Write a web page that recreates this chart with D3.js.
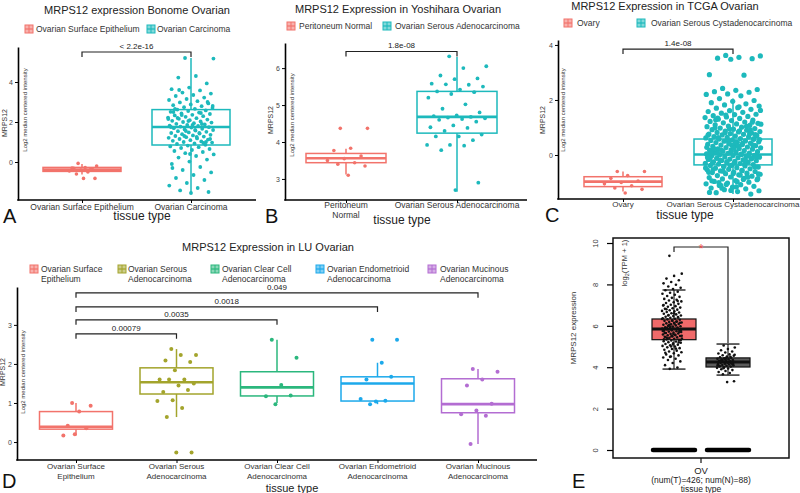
<!DOCTYPE html>
<html lang="en">
<head>
<meta charset="utf-8">
<title>MRPS12 expression in ovarian datasets</title>
<script src="https://cdnjs.cloudflare.com/ajax/libs/d3/7.8.5/d3.min.js"></script>
<style>
  body { margin: 0; background: #fff; }
  svg { font-family: "Liberation Sans", Arial, sans-serif; }
</style>
</head>
<body>
<script>
// ---------- data ----------
// box stats are [whiskerLow, q1, median, q3, whiskerHigh]

// A - Bonome
var aGroups = ["Ovarian Surface Epithelium", "Ovarian Carcinoma"];
var aBox = [[-0.62, -0.47, -0.38, -0.27, -0.1], [-1.55, 0.85, 1.75, 2.62, 5.2]];
var aTicks = [0, 2, 4];
var aPval = "< 2.2e-16";
var aPts = [
  [-0.07, -0.2, -0.28, -0.32, -0.36, -0.4, -0.45, -0.5, -0.6, -0.82, -0.82, -0.3, -0.38],
  [5.2, 5.17, 4.3, 4.22, 3.93, 3.72, 3.64, 3.58, 3.47, 3.42, 3.35, 3.3, 3.22, 3.15, 3.1, 3.04, 2.98, 2.93,
   2.88, 2.84, 2.79, 2.74, 2.7, 2.66, 2.62, 2.58, 2.55, 2.51, 2.47, 2.43, 2.4, 2.36, 2.33, 2.29, 2.26, 2.22,
   2.19, 2.16, 2.12, 2.09, 2.06, 2.03, 2.0, 1.97, 1.94, 1.91, 1.88, 1.85, 1.82, 1.8, 1.77, 1.74, 1.72, 1.69,
   1.66, 1.63, 1.6, 1.57, 1.54, 1.51, 1.48, 1.45, 1.42, 1.39, 1.36, 1.33, 1.3, 1.27, 1.24, 1.21, 1.18, 1.15,
   1.12, 1.09, 1.06, 1.03, 1.0, 0.97, 0.93, 0.9, 0.86, 0.82, 0.78, 0.74, 0.7, 0.65, 0.6, 0.55, 0.5, 0.44,
   0.38, 0.3, 0.22, 0.12, 0.02, -0.1, -0.25, -0.4, -0.52, -0.65, -0.8, -0.9, -1.05, -1.18, -1.3, -1.42, -1.5,
   -1.55, 2.5, 1.9, 1.3, 2.8, 1.6, 2.2, 1.0, 2.05, 1.75, 1.45, 2.35, 1.15, 1.85, 2.65, 0.95, 1.55, 2.15,
   1.25, 3.6, 3.0, 0.4, -0.3, 2.45]
];

// B - Yoshihara
var bGroups = ["Peritoneum Normal", "Ovarian Serous Adenocarcinoma"];
var bBox = [[3.12, 3.44, 3.56, 3.69, 3.82], [2.65, 4.24, 4.68, 5.37, 6.3]];
var bTicks = [3, 4, 5, 6];
var bPval = "1.8e-08";
var bPts = [
  [4.37, 4.37, 3.83, 3.77, 3.62, 3.55, 3.5, 3.44, 3.4, 3.35, 3.1],
  [6.32, 6.05, 6.0, 5.8, 5.72, 5.7, 5.58, 5.55, 5.56, 5.5, 5.42, 5.37, 5.35, 5.3, 5.2, 5.02, 4.9, 4.8,
   4.72, 4.7, 4.68, 4.66, 4.64, 4.62, 4.6, 4.55, 4.45, 4.4, 4.38, 4.3, 4.2, 4.15, 4.15, 4.05, 3.92, 3.92,
   3.9, 3.78, 2.9, 2.7]
];

// C - TCGA
var cGroups = ["Ovary", "Ovarian Serous Cystadenocarcinoma"];
var cBox = [[-1.33, -1.15, -0.97, -0.79, -0.6], [-1.42, -0.36, 0.02, 0.58, 2.05]];
var cTicks = [0, 2, 4];
var cPval = "1.4e-08";
var cPts = [
  [-0.6, -0.6, -0.75, -0.85, -0.95, -1.0, -1.05, -1.12, -1.2, -1.25, -1.38],
  [3.62, 3.6, 3.55, 3.52, 3.5, 3.48, 2.92, 2.9, 2.42, 2.38, 2.35, 2.3, 2.28, 2.22, 2.2, 2.15, 2.05, 1.98,
   1.95, 1.9, 1.86, 1.82, 1.78, 1.72, 1.7, 1.66, 1.61, 1.58, 1.55, 1.52, 1.48, 1.47, 1.43, 1.4, 1.38, 1.36,
   1.33, 1.3, 1.27, 1.25, 1.22, 1.2, 1.17, 1.15, 1.13, 1.1, 1.08, 1.05, 1.03, 1.01, 0.98, 0.96, 0.94, 0.92,
   0.9, 0.87, 0.85, 0.84, 0.82, 0.8, 0.78, 0.76, 0.75, 0.73, 0.71, 0.69, 0.67, 0.66, 0.64, 0.62, 0.6, 0.58,
   0.57, 0.55, 0.53, 0.51, 0.5, 0.48, 0.46, 0.45, 0.43, 0.41, 0.39, 0.38, 0.36, 0.34, 0.33, 0.31, 0.29,
   0.27, 0.26, 0.24, 0.22, 0.21, 0.19, 0.17, 0.16, 0.14, 0.12, 0.11, 0.09, 0.07, 0.06, 0.04, 0.03, 0.01,
   -0.01, -0.02, -0.04, -0.05, -0.07, -0.08, -0.1, -0.12, -0.13, -0.15, -0.16, -0.18, -0.2, -0.21, -0.23,
   -0.25, -0.26, -0.28, -0.3, -0.31, -0.33, -0.35, -0.37, -0.38, -0.4, -0.42, -0.44, -0.46, -0.48, -0.5,
   -0.52, -0.54, -0.56, -0.58, -0.6, -0.62, -0.64, -0.66, -0.68, -0.7, -0.72, -0.75, -0.77, -0.8, -0.82,
   -0.85, -0.87, -0.9, -0.93, -0.96, -0.99, -1.02, -1.05, -1.08, -1.11, -1.14, -1.17, -1.2, -1.23, -1.26,
   -1.3, -1.33, -1.37, -1.42,
   0.95, 0.72, 0.43, 0.18, -0.06, -0.29, -0.53, -0.81, -1.07, 1.12, 0.88, 0.63, 0.37, 0.13, -0.11, -0.34,
   -0.59, -0.86, -1.16, 0.99, 0.77, 0.52, 0.28, 0.02, -0.19, -0.43, -0.67, -0.94, 1.04, 0.81, 0.56, 0.32,
   0.08, -0.14, -0.39, -0.63, -0.89, -1.21, 0.69, 0.47, 0.23, -0.03, -0.24, -0.47, -0.73, -1.0, 0.59,
   0.35, 0.1, -0.17, -0.41, -0.69, -0.97, 1.28, 0.91, 0.41, -0.09, -0.57, -1.1, 0.74, 0.25, -0.27, -0.78,
   1.45, 1.62, 1.75, 1.34, 1.19, -1.29, -1.36]
];

// D - LU
var dGroups = ["Ovarian Surface\nEpithelium", "Ovarian Serous\nAdenocarcinoma", "Ovarian Clear Cell\nAdenocarcinoma",
               "Ovarian Endometrioid\nAdenocarcinoma", "Ovarian Mucinous\nAdenocarcinoma"];
var dBox = [[0.17, 0.33, 0.39, 0.78, 1.0], [0.64, 1.23, 1.53, 1.9, 2.38], [1.0, 1.18, 1.4, 1.8, 2.62],
            [0.97, 1.05, 1.5, 1.67, 2.03], [-0.05, 0.75, 0.97, 1.62, 1.87]];
var dTicks = [0, 1, 2, 3];
var dPts = [
  [1.0, 0.93, 0.78, 0.42, 0.35, 0.2, 0.17],
  [2.38, 2.23, 2.23, 2.09, 2.05, 1.84, 1.6, 1.6, 1.6, 1.5, 1.45, 1.28, 1.33, 1.07, 1.05, 0.87, 0.64, -0.27, -0.27],
  [2.62, 2.16, 1.46, 1.17, 1.19, 0.97],
  [2.62, 2.62, 2.03, 1.6, 1.67, 1.04, 1.1, 1.06, 0.97],
  [1.87, 1.8, 1.6, 1.45, 0.98, 0.81, 0.71, 0.67, -0.05]
];
var dComparisons = [[0, 4, "0.049"], [0, 3, "0.0018"], [0, 2, "0.0035"], [0, 1, "0.00079"]];

// E - GEPIA
var eGroups = ["Tumor", "Normal"];
var eBox = [[3.91, 5.33, 5.85, 6.33, 7.73], [3.62, 4.01, 4.25, 4.45, 5.12]];
var eTicks = [0, 2, 4, 6, 8, 10];
var ePts = [
  [9.38, 8.52, 8.41, 8.28, 8.2, 8.12, 8.05, 7.98, 7.9, 7.84, 7.78, 7.72, 7.65, 7.6, 7.55, 7.5, 7.44, 7.4,
   7.35, 7.3, 7.26, 7.22, 7.18, 7.14, 7.1, 7.06, 7.02, 6.98, 6.95, 6.92, 6.88, 6.85, 6.82, 6.78, 6.75, 6.72,
   6.7, 6.67, 6.64, 6.61, 6.58, 6.55, 6.52, 6.5, 6.47, 6.44, 6.42, 6.39, 6.36, 6.34, 6.31, 6.29, 6.26, 6.24,
   6.21, 6.19, 6.16, 6.14, 6.12, 6.09, 6.07, 6.05, 6.02, 6.0, 5.98, 5.96, 5.93, 5.91, 5.89, 5.87, 5.85, 5.83,
   5.8, 5.78, 5.76, 5.74, 5.72, 5.7, 5.67, 5.65, 5.63, 5.61, 5.58, 5.56, 5.54, 5.51, 5.49, 5.47, 5.44, 5.42,
   5.39, 5.37, 5.34, 5.32, 5.29, 5.26, 5.24, 5.21, 5.18, 5.15, 5.12, 5.09, 5.06, 5.03, 5.0, 4.96, 4.92, 4.88,
   4.84, 4.8, 4.76, 4.72, 4.67, 4.62, 4.57, 4.52, 4.47, 4.41, 4.35, 4.28, 4.2, 4.1, 3.98, 3.92,
   6.33, 6.1, 5.9, 5.7, 5.5, 5.35, 6.2, 6.0, 5.8, 5.6, 5.45, 6.4, 5.95, 5.75, 5.55, 5.4, 6.15, 6.25, 5.65,
   5.85, 6.05, 5.52, 6.6, 6.8, 5.2, 5.0, 7.0, 4.9, 6.5, 5.3, 5.1, 4.7, 7.2, 4.5],
  [5.05, 4.95, 4.88, 4.82, 4.76, 4.71, 4.66, 4.62, 4.58, 4.55, 4.51, 4.48, 4.46, 4.43, 4.41, 4.39, 4.37,
   4.35, 4.33, 4.31, 4.29, 4.27, 4.25, 4.23, 4.21, 4.19, 4.17, 4.15, 4.13, 4.11, 4.09, 4.07, 4.05, 4.03,
   4.0, 3.97, 3.94, 3.9, 3.86, 3.82, 3.77, 3.72, 3.66, 3.32, 3.28, 4.3, 4.2, 4.4, 4.1, 4.25, 4.35, 4.15,
   4.45, 4.05, 4.5, 3.95, 4.6, 4.22, 4.28, 4.18]
];
var eXLabel = ["OV", "(num(T)=426; num(N)=88)", "tissue type"];

// ---------- drawing ----------
var svg = d3.select("body").append("svg").attr("width", 800).attr("height", 493);

var red = "#F2736B", teal = "#1DB9BC";

// deterministic spread for the jittered dots (layout only)
function jit(i) { return ((i * 0.6180339 + 0.37) % 1) - 0.5; }

function txt(g, x, y, s, size, anchor, fill) {
  return g.append("text").attr("x", x).attr("y", y).attr("font-size", size)
    .attr("text-anchor", anchor || "middle").attr("fill", fill || "#222").text(s);
}

function drawGG(o) {
  var g = svg.append("g");
  var x = d3.scalePoint().domain(o.groups).range(o.cx);
  var y = d3.scaleLinear().domain(o.yDomain).range([o.bottom, o.top]);

  txt(g, o.titleX, o.titleY, o.title, 11, "middle", "#222");

  // legend
  o.legend.forEach(function(l, i) {
    var c = o.colors[i];
    g.append("rect").attr("x", l[0]).attr("y", o.legY - 4).attr("width", 8).attr("height", 8)
      .attr("fill", c).attr("fill-opacity", 0.55).attr("stroke", c).attr("stroke-width", 1);
    g.append("line").attr("x1", l[0] + 4).attr("x2", l[0] + 4).attr("y1", o.legY - 4).attr("y2", o.legY + 4)
      .attr("stroke", c).attr("stroke-width", 1);
    g.append("line").attr("x1", l[0]).attr("x2", l[0] + 8).attr("y1", o.legY).attr("y2", o.legY)
      .attr("stroke", c).attr("stroke-width", 1.2);
    var lines = o.groups[i].split("\n");
    lines.forEach(function(s, k) {
      txt(g, l[1], o.legY + 3 + k * 9.5, s, 8.5, "start", "#333");
    });
  });

  // y axis
  var ya = g.append("g").attr("transform", "translate(" + o.axisX + ",0)")
    .call(d3.axisLeft(y).tickValues(o.ticks).tickSize(3).tickPadding(2).tickSizeOuter(0).tickFormat(d3.format("d")));
  ya.select(".domain").attr("stroke-width", 1.6);
  ya.selectAll(".tick line").attr("stroke-width", 1);
  ya.selectAll("text").attr("font-size", 7).attr("fill", "#444").attr("font-family", null);

  // x axis line + ticks
  g.append("line").attr("x1", o.axisX - 0.8).attr("x2", o.axisEnd).attr("y1", o.bottom).attr("y2", o.bottom)
    .attr("stroke", "#000").attr("stroke-width", 1.6);
  var xa = g.append("g").attr("transform", "translate(0," + o.bottom + ")")
    .call(d3.axisBottom(x).tickSize(3).tickFormat(""));
  xa.select(".domain").remove();

  // x labels
  o.groups.forEach(function(s, i) {
    var lines = (o.xLabels ? o.xLabels[i] : s).split("\n");
    lines.forEach(function(t, k) {
      txt(g, x(s), o.xLabY + k * 9.5, t, o.xLabSize || 8.5, "middle", "#333");
    });
  });
  txt(g, o.ttX, o.ttY, "tissue type", o.ttSize || 12, "middle", "#222");

  // y labels
  g.append("text").attr("transform", "translate(" + o.yl1[0] + "," + o.yl1[1] + ") rotate(-90)")
    .attr("text-anchor", "middle").attr("font-size", 7).attr("fill", "#333").text("MRPS12");
  g.append("text").attr("transform", "translate(" + o.yl2[0] + "," + o.yl2[1] + ") rotate(-90)")
    .attr("text-anchor", "middle").attr("font-size", 6).attr("fill", "#333").text("Log2 median centered intensity");

  // boxes
  o.groups.forEach(function(s, i) {
    var b = o.box[i], cx = x(s), c = o.colors[i], bw = o.boxW;
    g.append("line").attr("x1", cx).attr("x2", cx).attr("y1", y(b[0])).attr("y2", y(b[4]))
      .attr("stroke", c).attr("stroke-width", 1.5);
    g.append("rect").attr("x", cx - bw / 2).attr("y", y(b[3])).attr("width", bw)
      .attr("height", Math.max(1, y(b[1]) - y(b[3])))
      .attr("fill", "#fff").attr("stroke", c).attr("stroke-width", 1.5);
    g.append("line").attr("x1", cx - bw / 2).attr("x2", cx + bw / 2).attr("y1", y(b[2])).attr("y2", y(b[2]))
      .attr("stroke", c).attr("stroke-width", 2.6);
  });

  // jittered points
  o.groups.forEach(function(s, i) {
    var cx = x(s), jw = o.jitW[i];
    g.selectAll(null).data(o.pts[i]).enter().append("circle")
      .attr("cx", function(d, k) { return cx + jit(k) * jw; })
      .attr("cy", function(d) { return y(d); })
      .attr("r", o.r[i])
      .attr("fill", o.colors[i]);
  });

  // comparison brackets
  o.brackets.forEach(function(br) {
    var x1 = x(o.groups[br[0]]), x2 = x(o.groups[br[1]]), yy = y(br[3]);
    g.append("path").attr("d", "M" + x1 + "," + (yy + 5) + "V" + yy + "H" + x2 + "V" + (yy + 5))
      .attr("fill", "none").attr("stroke", "#222").attr("stroke-width", 1.2);
    txt(g, (x1 + x2) / 2, yy - 3, br[2], 8, "middle", "#222");
  });

  txt(g, o.letter[1], o.letter[2], o.letter[0], 20, "start", "#111");
}

// A
drawGG({
  groups: aGroups, box: aBox, pts: aPts, ticks: aTicks, colors: [red, teal],
  cx: [82, 191], yDomain: [-1.9, 5.75], bottom: 200, top: 47, axisX: 18, axisEnd: 256,
  boxW: 78, jitW: [30, 46], r: [1.8, 1.9],
  title: "MRPS12 expression Bonome  Ovarian", titleX: 137, titleY: 13.5,
  legend: [[25, 36], [147, 157]], legY: 29,
  xLabY: 210, ttX: 142, ttY: 220, yl1: [7, 123], yl2: [27, 110],
  brackets: [[0, 1, aPval, 5.5]], letter: ["A", 3, 223]
});

// B
drawGG({
  groups: bGroups, box: bBox, pts: bPts, ticks: bTicks, colors: [red, teal],
  xLabels: ["Peritoneum\nNormal", "Ovarian Serous Adenocarcinoma"],
  cx: [346, 457], yDomain: [2.43, 6.68], bottom: 200, top: 43, axisX: 285, axisEnd: 527,
  boxW: 80, jitW: [44, 60], r: [1.8, 1.9],
  title: "MRPS12 Expression in Yoshihara Ovarian", titleX: 398, titleY: 13,
  legend: [[287, 299], [383, 395]], legY: 26,
  xLabY: 208, ttX: 402, ttY: 224, yl1: [273, 120], yl2: [294, 115],
  brackets: [[0, 1, bPval, 6.45]], letter: ["B", 265, 223]
});

// C
drawGG({
  groups: cGroups, box: cBox, pts: cPts, ticks: cTicks, colors: [red, teal],
  cx: [623, 733], yDomain: [-1.6, 4.18], bottom: 199, top: 40, axisX: 558, axisEnd: 800,
  boxW: 78, jitW: [44, 56], r: [1.8, 2.6],
  title: "MRPS12 Expression in TCGA Ovarian", titleX: 665, titleY: 9.5,
  legend: [[564, 577], [637, 651]], legY: 23, xLabSize: 8,
  xLabY: 207, ttX: 685, ttY: 219, yl1: [545, 120], yl2: [565, 110],
  brackets: [[0, 1, cPval, 3.85]], letter: ["C", 545, 222]
});

// D
drawGG({
  groups: dGroups, box: dBox, pts: dPts, ticks: dTicks,
  colors: [red, "#A3A42C", "#2BB77D", "#1CA9EB", "#B36DD2"],
  cx: [76, 478], yDomain: [-0.46, 3.97], bottom: 460, top: 287, axisX: 17, axisEnd: 537,
  boxW: 73, jitW: [30, 40, 40, 40, 40], r: [2, 2, 2, 2, 2],
  title: "MRPS12 Expression in LU Ovarian", titleX: 268, titleY: 251,
  legend: [[30, 41], [118, 128], [211, 222], [316, 327], [428, 440]], legY: 269, xLabSize: 8,
  xLabY: 469, ttX: 292, ttY: 492, ttSize: 11, yl1: [5, 372], yl2: [25, 372],
  brackets: dComparisons.map(function(c, i) { return [c[0], c[1], c[2], [3.82, 3.46, 3.13, 2.77][i]]; }),
  letter: ["D", 2, 488]
});

// E (GEPIA style)
(function() {
  var g = svg.append("g");
  var x = d3.scalePoint().domain(eGroups).range([674, 728]);
  var y = d3.scaleLinear().domain([-0.386, 10.242]).range([458, 238]);
  var bw = 44, fills = ["#F06A6A", "#5B5B5B"];

  g.append("rect").attr("x", 613).attr("y", 238).attr("width", 176).attr("height", 220)
    .attr("fill", "none").attr("stroke", "#111").attr("stroke-width", 1.5);

  var ya = g.append("g").attr("transform", "translate(613,0)")
    .call(d3.axisLeft(y).tickValues(eTicks).tickSize(6).tickSizeOuter(0));
  ya.select(".domain").remove();
  ya.selectAll(".tick line").attr("stroke-width", 1.2);
  ya.selectAll("text").attr("font-size", 7.5).attr("fill", "#333").attr("font-family", null)
    .attr("text-anchor", "middle").attr("x", 0).attr("dy", 0)
    .attr("transform", "translate(-15,0) rotate(-90)");

  g.append("line").attr("x1", 701).attr("x2", 701).attr("y1", 458).attr("y2", 463)
    .attr("stroke", "#111").attr("stroke-width", 1.2);
  eXLabel.forEach(function(s, k) {
    txt(g, 701, [474, 483, 491.5][k], s, k === 0 ? 9.5 : 8.5, "middle", "#222");
  });

  g.append("text").attr("transform", "translate(576,328) rotate(-90)").attr("text-anchor", "middle")
    .attr("font-size", 8).attr("fill", "#333").text("MRPS12 expression");
  var lt = g.append("text").attr("transform", "translate(627,263) rotate(-90)").attr("text-anchor", "middle")
    .attr("font-size", 7.5).attr("fill", "#333");
  lt.append("tspan").text("log");
  lt.append("tspan").attr("font-size", 5.5).attr("dy", 2).text("2");
  lt.append("tspan").attr("dy", -2).text("(TPM + 1)");

  // zero-expression band
  eGroups.forEach(function(s) {
    g.append("line").attr("x1", x(s) - bw / 2 + 1).attr("x2", x(s) + bw / 2 - 1)
      .attr("y1", y(0)).attr("y2", y(0)).attr("stroke", "#000").attr("stroke-width", 4.5)
      .attr("stroke-linecap", "round");
  });

  eGroups.forEach(function(s, i) {
    var b = eBox[i], cx = x(s);
    g.append("line").attr("x1", cx).attr("x2", cx).attr("y1", y(b[0])).attr("y2", y(b[4]))
      .attr("stroke", "#111").attr("stroke-width", 1.1);
    [b[0], b[4]].forEach(function(v) {
      g.append("line").attr("x1", cx - 11.5).attr("x2", cx + 11.5).attr("y1", y(v)).attr("y2", y(v))
        .attr("stroke", "#111").attr("stroke-width", 1.3);
    });
    g.append("rect").attr("x", cx - bw / 2).attr("y", y(b[3])).attr("width", bw).attr("height", y(b[1]) - y(b[3]))
      .attr("fill", fills[i]).attr("stroke", "#111").attr("stroke-width", 1.2);
    g.append("line").attr("x1", cx - bw / 2).attr("x2", cx + bw / 2).attr("y1", y(b[2])).attr("y2", y(b[2]))
      .attr("stroke", "#111").attr("stroke-width", 3);
  });

  eGroups.forEach(function(s, i) {
    var cx = x(s) - 2, jw = [20, 18][i];
    g.selectAll(null).data(ePts[i]).enter().append("circle")
      .attr("cx", function(d, k) { return cx + jit(k) * jw; })
      .attr("cy", function(d) { return y(d); })
      .attr("r", 1.3).attr("fill", "#111");
  });

  g.append("path").attr("d", "M674,252V247H728V343").attr("fill", "none")
    .attr("stroke", "#222").attr("stroke-width", 1.2);
  txt(g, 701, 253, "*", 12, "middle", "#F04A4A");

  txt(g, 572, 488, "E", 20, "start", "#111");
})();
</script>
</body>
</html>
